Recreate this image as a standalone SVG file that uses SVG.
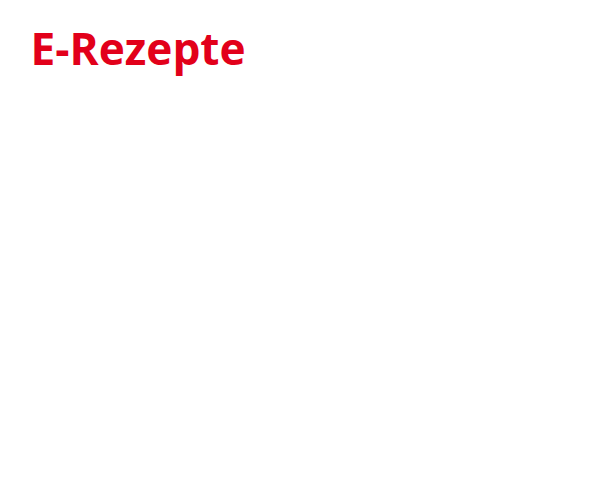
<svg xmlns="http://www.w3.org/2000/svg" width="600" height="500" viewBox="0 0 600 500">
<style>
.title{font-family:"Open Sans","Noto Sans","Liberation Sans",sans-serif;font-weight:bold;font-size:44.2px;fill:#e2001a;}
</style>
<rect width="600" height="500" fill="#ffffff"/>
<g id="title">
<text class="title" x="30.5" y="64.5">E-Rezepte</text>
</g>
<g id="connectors"></g>
</svg>
